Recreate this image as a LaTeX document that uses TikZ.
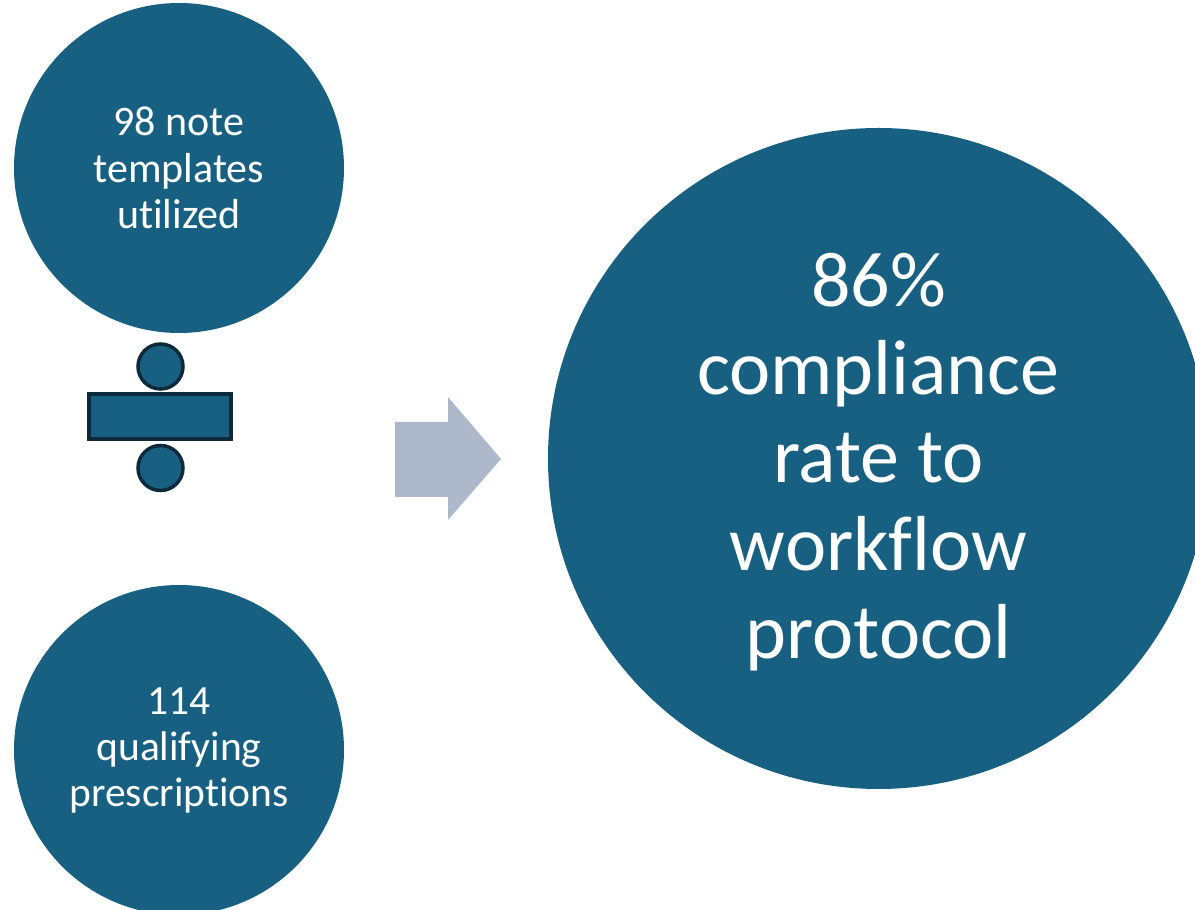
\documentclass[tikz,border=0pt]{standalone}
\usepackage{fontspec}
\setmainfont{Carlito}[Ligatures=NoCommon]
\definecolor{circblue}{RGB}{24,96,130}
\definecolor{signline}{RGB}{12,42,58}
\definecolor{arrowgray}{RGB}{173,185,202}
\tikzset{
  bigdot/.style={circle, fill=circblue, text=white, align=center, inner sep=0pt},
  signpart/.style={fill=circblue, draw=signline, line width=3.5pt}
}
\begin{document}
\begin{tikzpicture}[x=1pt, y=1pt]

  % Fix the page size and cut off what runs over
  \useasboundingbox (0,0) rectangle (1195,910);
  \clip (0,0) rectangle (1195,910);

  % Define the centres of the three circles
  \coordinate (N) at (179,742);
  \coordinate (P) at (179,160);
  \coordinate (R) at (878.5,451.5);

  % Draw the two small circles and the big one
  \node[bigdot, minimum size=330pt, font=\fontsize{42}{46.5}\selectfont] (note) at (N)
    {98 note\\templates\\utilized};
  \node[bigdot, minimum size=330pt, font=\fontsize{41.5}{46}\selectfont] (presc) at (P)
    {114\\qualifying\\prescriptions};
  \node[bigdot, minimum size=661pt] (rate) at (R) {};
  \node[text=white, align=center, font=\fontsize{78}{88}\selectfont] (ratetext)
    at ([yshift=-4pt]rate.center) {86\%\\compliance\\rate to\\workflow\\protocol};

  % Draw the division sign
  \draw[signpart] (160.5,543.5) circle (22.5);
  \draw[signpart] (89,471) rectangle (231,516);
  \draw[signpart] (160.5,442) circle (22.5);

  % Draw the block arrow
  \fill[arrowgray] (395,413) -- (395,488) -- (448,488) -- (448,513)
    -- (501,451) -- (448,390) -- (448,413) -- cycle;

\end{tikzpicture}
\end{document}
